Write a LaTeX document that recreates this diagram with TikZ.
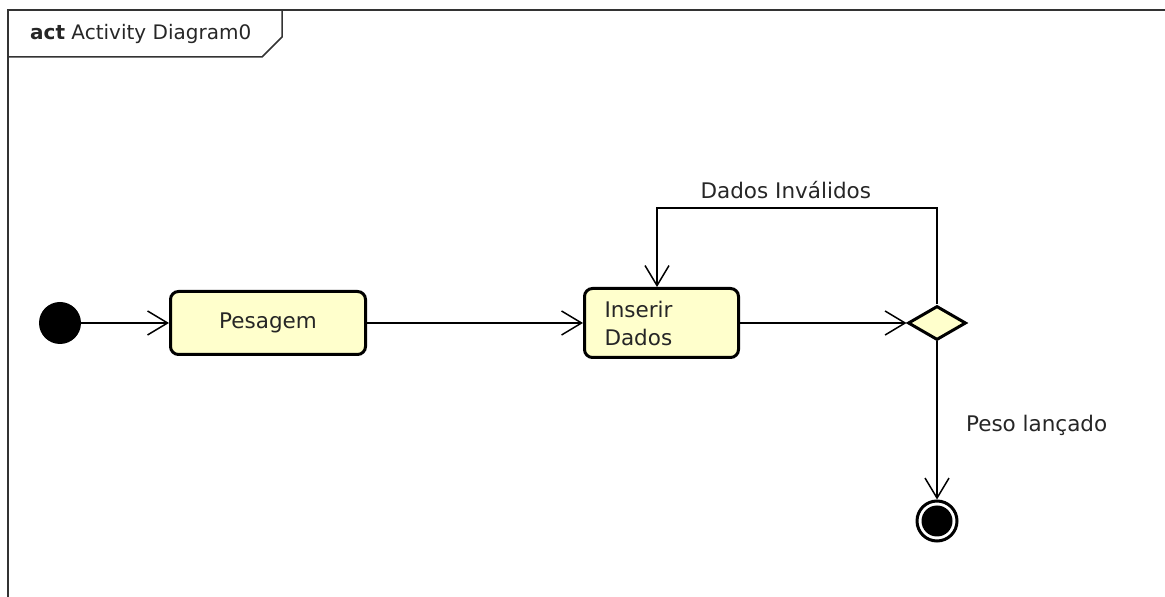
\documentclass[tikz,border=0pt]{standalone}
\usepackage{fontspec}
\setmainfont{DejaVu Sans}
\usetikzlibrary{arrows.meta,positioning}
\usetikzlibrary{shapes.geometric}
\definecolor{actfill}{RGB}{255,255,204}

\begin{document}
\begin{tikzpicture}[x=1pt,y=1pt,on grid,auto,
  font=\fontsize{21.5}{28}\selectfont,text=black!85,
  flow/.style={-{Straight Barb[length=20pt,width=24pt]},line width=1.5pt},
  action/.style={rectangle,rounded corners=8pt,draw,line width=3pt,fill=actfill,inner sep=0pt},
  start/.style={circle,fill=black,minimum size=42pt,inner sep=0pt},
  stop/.style={circle,draw,line width=3pt,fill=white,minimum size=40pt,inner sep=0pt,
    path picture={\fill[black] (path picture bounding box.center) circle (15.5pt);}},
  choice/.style={diamond,draw,line width=3pt,fill=actfill,minimum width=58pt,minimum height=34pt,inner sep=0pt}]

  % frame
  \useasboundingbox (0,0) rectangle (1165,597);
  \draw[line width=1.5pt,black!80] (8,0) -- (8,587) -- (1165,587);
  \draw[line width=1.5pt,black!80] (8,540) -- (262,540) -- (282,560) -- (282,587);
  \node[anchor=base west,inner sep=0pt,font=\fontsize{20}{24}\selectfont] (title) at (30,557) {\textbf{act} Activity Diagram0};

  \node[start]					(ini) at (60,274)		{};
  \node[action,minimum width=195pt,minimum height=63pt]	(pes) [right=208pt of ini]	{Pesagem};
  \node[action,minimum height=69pt,text width=114pt,inner xsep=20pt,align=left]	(ins) [right=393.5pt of pes]	{Inserir\\Dados};
  \node[choice]					(dec) [right=275.5pt of ins]	{};
  \node[stop]					(fim) [below=198pt of dec]	{};
  \coordinate (loop) at (657,389);

\path[flow]
     (ini)	edge	(pes)
     (pes)	edge	(ins)
     (ins)	edge	(dec)
     (dec)	edge	node[pos=0.53,xshift=25pt]	{Peso lançado} (fim)
  ;
  \draw[flow] (dec.north) |- node[pos=0.77,above=5pt] {Dados Inválidos} (loop) -- (loop |- ins.north);
\end{tikzpicture}
\end{document}
